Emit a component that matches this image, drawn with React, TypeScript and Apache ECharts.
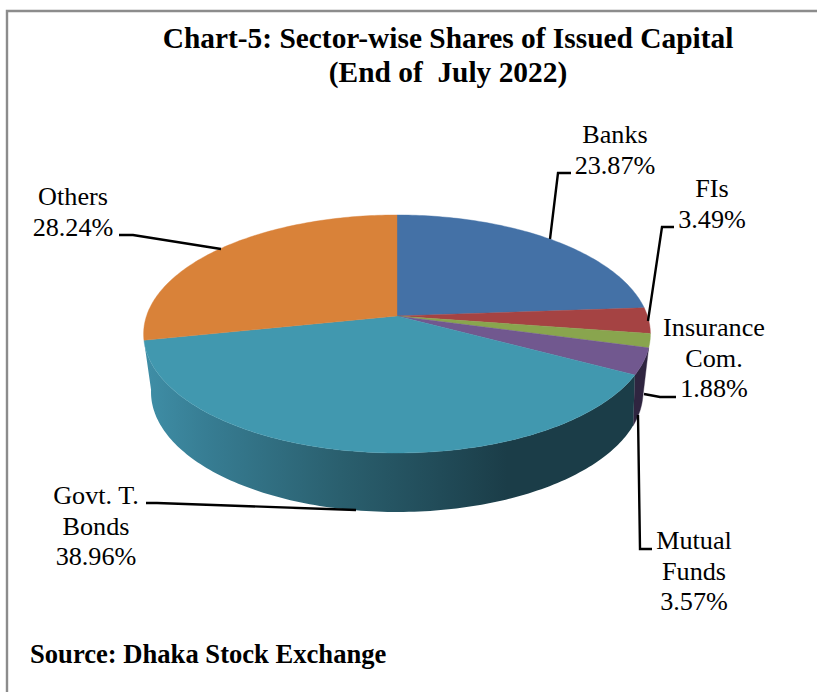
import React, { useEffect, useRef } from "react";
import * as echarts from "echarts";

const categories = ["Banks", "FIs", "Insurance\nCom.", "Mutual\nFunds", "Govt. T.\nBonds", "Others"];
const shares = [23.87, 3.49, 1.88, 3.57, 38.96, 28.24];
const topColors = ["#4471a6", "#a54343", "#89a54e", "#71588f", "#4198af", "#d98239"];
const wallColors = ["#2a4565", "#642929", "#53642f", "#2f2540", "#1b3d48", "#84501f"];
const titleText = "Chart-5: Sector-wise Shares of Issued Capital\n(End of  July 2022)";
const sourceText = "Source: Dhaka Stock Exchange";

const SERIF = '"Liberation Serif", "Times New Roman", serif';
const LABEL_SIZE = 26.2;

// Layout of the labels and leader lines, by slice
const labelAt = [
  { x: 615, y: 150 },
  { x: 712, y: 204 },
  { x: 714, y: 358 },
  { x: 694, y: 571 },
  { x: 96, y: 526 },
  { x: 73, y: 212 },
];
const leaders = [
  [[550, 239], [558, 173], [571, 173]],
  [[648, 321], [662, 227], [674, 227]],
  [[644, 394], [660, 397], [676, 397]],
  [[638, 415], [640, 549], [652, 549]],
  [[146, 503], [157, 503], [356, 510]],
  [[119, 235], [133, 235], [221, 249]],
];

// Perspective ellipse for the pie's top rim and bottom rim
const CX = 397;
const topRim = (deg: number) => {
  const a = (deg * Math.PI) / 180;
  const u = Math.sin(a), v = Math.cos(a), k = 0.151;
  const d = 1 + k * v;
  return [CX + (250.5 * u) / d, 316 - (116.3 * v) / d];
};
const bottomRim = (deg: number) => {
  const a = (deg * Math.PI) / 180;
  const u = Math.sin(a), v = Math.cos(a), k = 0.22;
  const d = 1 + k * v;
  const w = 246 * Math.sqrt(1 - k * k);
  const h = 120 * (1 - k * k);
  return [CX + (w * u) / d, 392 - 120 * k - (h * v) / d];
};
const WALL_FROM = 98.7;
const WALL_TO = 261.3;

const arc = (fn: (d: number) => number[], from: number, to: number) => {
  const pts: number[][] = [];
  const n = Math.max(2, Math.ceil(Math.abs(to - from)));
  for (let i = 0; i <= n; i++) pts.push(fn(from + ((to - from) * i) / n));
  return pts;
};

export default function App() {
  const ref = useRef<HTMLDivElement>(null);
  useEffect(() => {
    document.body.style.margin = "0";
    const chart = echarts.init(ref.current!, undefined, { renderer: "svg" });
    const total = shares.reduce((s, v) => s + v, 0);
    const starts: number[] = [];
    shares.reduce((acc, v, i) => ((starts[i] = acc), acc + v), 0);

    const wallFill = (i: number) =>
      i === 4
        ? new echarts.graphic.LinearGradient(
            146, 0, 650, 0,
            [
              { offset: 0, color: "#3f8ea6" },
              { offset: 0.12, color: "#377d93" },
              { offset: 0.385, color: "#2a5f6e" },
              { offset: 0.583, color: "#214b58" },
              { offset: 0.716, color: "#1b3d48" },
              { offset: 1, color: "#1b3d48" },
            ],
            true
          )
        : wallColors[i];

    chart.setOption({
      animation: false,
      backgroundColor: "#ffffff",
      title: [
        {
          text: titleText,
          left: 443,
          top: 16,
          textAlign: "center",
          textStyle: { fontFamily: SERIF, fontSize: 29.4, fontWeight: "bold", color: "#000", lineHeight: 34 },
        },
        {
          text: sourceText,
          left: 25,
          top: 634,
          textStyle: { fontFamily: SERIF, fontSize: 26.6, fontWeight: "bold", color: "#000", lineHeight: 30 },
        },
      ],
      graphic: [
        {
          type: "polyline",
          silent: true,
          shape: { points: [[7, 692], [7, 11], [817, 11]] },
          style: { stroke: "#8c8c8c", lineWidth: 2.4, fill: "none" },
        },
      ],
      series: [
        {
          type: "custom",
          coordinateSystem: "none",
          silent: true,
          data: shares.map((v, i) => ({ name: categories[i].replace("\n", " "), value: [v, starts[i]] })),
          renderItem: (params: any, api: any) => {
            const i = params.dataIndex;
            const a0 = (api.value(1) / total) * 360;
            const a1 = ((api.value(1) + api.value(0)) / total) * 360;
            const children: any[] = [];
            // Slices that show only a sliver of side wall draw none
            const w0 = a0 < WALL_FROM ? WALL_FROM : a0;
            const w1 = Math.min(a1, WALL_TO);
            if (w1 - w0 > 7) {
              children.push({
                type: "polygon",
                z2: 1,
                shape: { points: [...arc(topRim, w0, w1), ...arc(bottomRim, w1, w0)] },
                style: { fill: wallFill(i), stroke: i === 4 ? "none" : wallColors[i], lineWidth: 0.4 },
              });
            }
            children.push({
              type: "polygon",
              z2: 2,
              shape: { points: [[CX, 316], ...arc(topRim, a0, a1)] },
              style: { fill: topColors[i], stroke: topColors[i], lineWidth: 0.4 },
            });
            children.push({
              type: "polyline",
              z2: 3,
              shape: { points: leaders[i] },
              style: { stroke: "#000", lineWidth: 2.4, fill: "none" },
            });
            children.push({
              type: "text",
              z2: 4,
              x: labelAt[i].x,
              y: labelAt[i].y,
              style: {
                text: `${categories[i]}\n${shares[i].toFixed(2)}%`,
                fontFamily: SERIF,
                fontSize: LABEL_SIZE,
                lineHeight: 30.5,
                fill: "#000",
                align: "center",
                verticalAlign: "middle",
              },
            });
            return { type: "group", children };
          },
        },
      ],
    });
    return () => chart.dispose();
  }, []);
  return <div ref={ref} style={{ width: 817, height: 692 }} />;
}
